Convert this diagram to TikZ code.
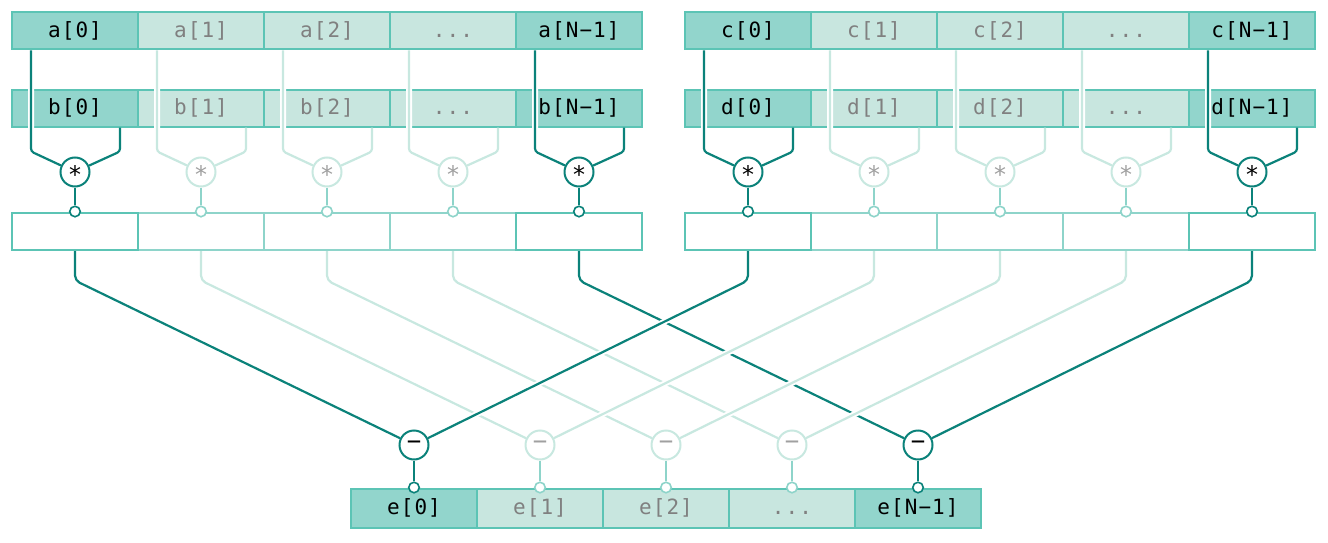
\documentclass[tikz,border=0pt]{standalone}
\usepackage{fontspec}
\newfontfamily\cellfont[LetterSpace=5]{DejaVu Sans Mono}
\newfontfamily\opfont{DejaVu Sans Mono}
\usetikzlibrary{positioning, backgrounds}

\definecolor{tealdark}{HTML}{0B827A}
\definecolor{tealedge}{HTML}{5CC4B5}
\definecolor{tealmid}{HTML}{8ED4CA}
\definecolor{teallight}{HTML}{C8E8E0}
\definecolor{fillhi}{HTML}{92D5CC}
\definecolor{filllo}{HTML}{C8E6DF}
\definecolor{txtlo}{HTML}{808080}
\definecolor{txtop}{HTML}{A0A0A0}
\newcommand\celldots{\vphantom{[}...}

\begin{document}
\begin{tikzpicture}[x=1pt, y=-1pt, on grid,
    every node/.style={font=\cellfont\fontsize{21pt}{23pt}\selectfont},
    cell/.style={draw=tealedge, line width=2pt, minimum width=126pt, minimum height=37pt, inner sep=0pt},
    cellhi/.style={cell, fill=fillhi, text=black},
    celllo/.style={cell, fill=filllo, text=txtlo},
    sumhi/.style={cell, fill=white},
    sumlo/.style={cell, draw=tealmid, fill=white},
    op/.style={circle, fill=white, line width=2pt, minimum size=29pt, inner sep=0pt, font=\opfont\fontsize{24pt}{24pt}\selectfont},
    ophi/.style={op, draw=tealdark, text=black},
    oplo/.style={op, draw=teallight, text=txtop},
    porthi/.style={circle, draw=tealdark, fill=white, line width=1.6pt, minimum size=10.5pt, inner sep=0pt},
    portlo/.style={porthi, draw=tealmid},
    wirehi/.style={draw=tealdark, line width=2.2pt, rounded corners=3pt},
    wirelo/.style={draw=teallight, line width=2.2pt, rounded corners=3pt},
    stemhi/.style={draw=tealdark, line width=2.2pt},
    stemlo/.style={draw=tealmid, line width=2.2pt},
    halo/.style={preaction={draw=white, line width=6pt}}]
  \useasboundingbox (0,0) rectangle (1328,543);

  % input rows a, c
  \foreach \nm/\x in {a/75, c/748}
    \foreach \i/\s/\k in {0/hi/\nm[0], 1/lo/\nm[1], 2/lo/\nm[2], 3/lo/\celldots, 4/hi/\nm[N−1]}
      \node[cell\s] (\nm\i) at (\x+126*\i, 31) {\k};

  % input rows b, d (behind the a, c wires)
  \begin{pgfonlayer}{background}
    \foreach \nm/\up in {b/a, d/c}
      \foreach \i/\s/\k in {0/hi/\nm[0], 1/lo/\nm[1], 2/lo/\nm[2], 3/lo/\celldots, 4/hi/\nm[N−1]}
        \node[cell\s, below=77pt of \up\i] (\nm\i) {\k};
  \end{pgfonlayer}

  % products
  \foreach \nm/\m in {b/mab, d/mcd}
    \foreach \i/\s in {0/hi, 1/lo, 2/lo, 3/lo, 4/hi}
      \node[op\s, below=64pt of \nm\i] (\m\i) {∗};

  \foreach \m/\p in {mab/pab, mcd/pcd} {
    \foreach \i in {1,2,3}
      \node[sumlo, below=59pt of \m\i] (\p\i) {};
    \foreach \i in {0,4}
      \node[sumhi, below=59pt of \m\i] (\p\i) {};
    \foreach \i/\s in {0/hi, 1/lo, 2/lo, 3/lo, 4/hi} {
      \node[port\s] (t\p\i) at (\p\i.north) {};
      \draw[stem\s] (\m\i) -- (t\p\i);
    }
  }

  % differences and output row e
  \foreach \i/\s/\k in {0/hi/e[0], 1/lo/e[1], 2/lo/e[2], 3/lo/\celldots, 4/hi/e[N−1]} {
    \node[op\s] (s\i) at (414+126*\i, 445) {−};
    \node[cell\s, minimum height=39pt, below=63pt of s\i] (e\i) {\k};
    \node[port\s] (te\i) at (e\i.north) {};
    \draw[stem\s] (s\i) -- (te\i);
  }

  \begin{pgfonlayer}{background}
    \foreach \up/\nm/\m in {a/b/mab, c/d/mcd}
      \foreach \i/\s in {0/hi, 1/lo, 2/lo, 3/lo, 4/hi} {
        \draw[wire\s] ([xshift=45pt]\nm\i.south) -- ++(0,24) -- (\m\i);
        \draw[wire\s, halo] ([xshift=-44pt]\up\i.south) -- ++(0,101) -- (\m\i);
      }
    \foreach \i/\s in {0/hi, 1/lo, 2/lo, 3/lo, 4/hi}
      \draw[wire\s, rounded corners=5pt] (pab\i.south) -- ++(0,30) -- (s\i);
    \foreach \i/\s in {0/hi, 1/lo, 2/lo, 3/lo, 4/hi}
      \draw[wire\s, halo, rounded corners=5pt] (pcd\i.south) -- ++(0,30) -- (s\i);
  \end{pgfonlayer}
\end{tikzpicture}
\end{document}
